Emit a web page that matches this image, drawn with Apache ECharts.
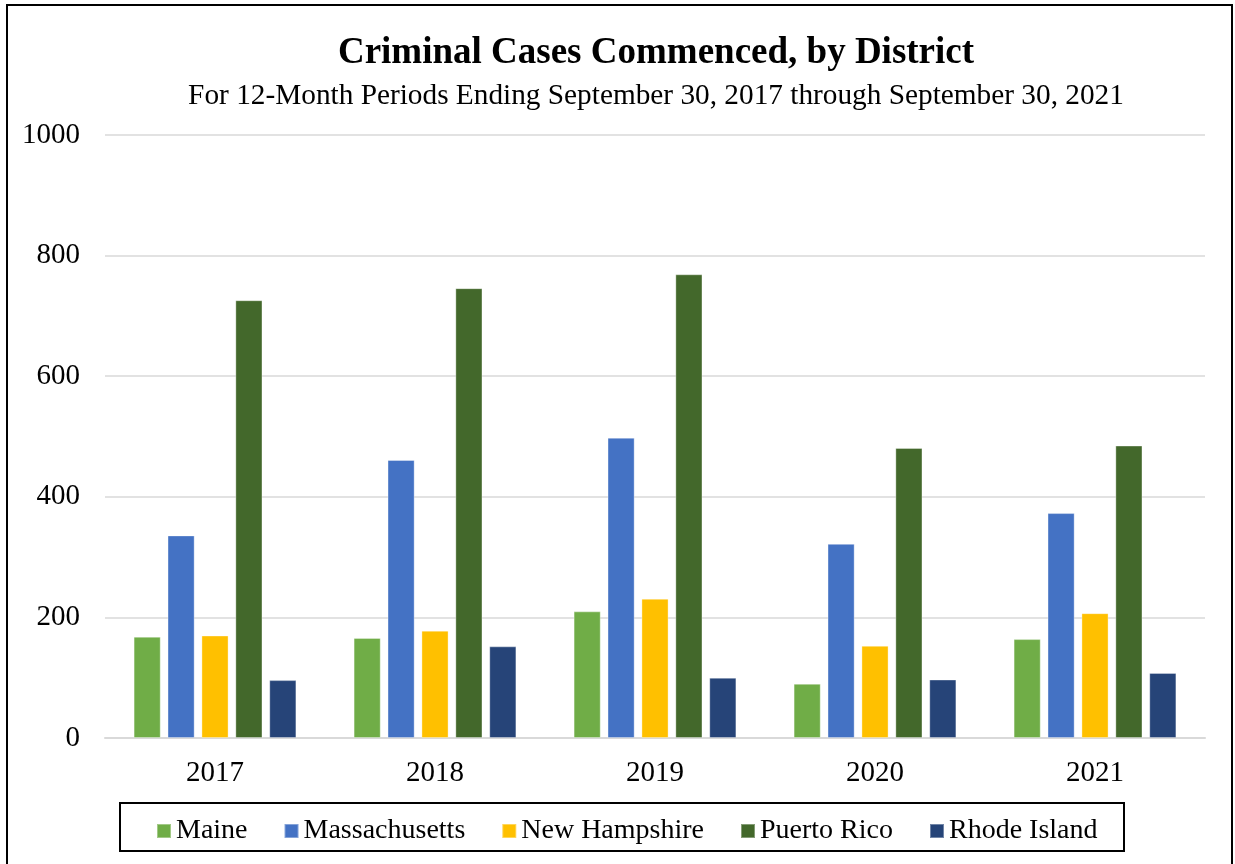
<!DOCTYPE html>
<html>
<head>
<meta charset="utf-8">
<script src="https://cdn.jsdelivr.net/npm/echarts@6/dist/echarts.min.js"></script>
<style>html,body{margin:0;padding:0;background:#fff}#c{width:1235px;height:864px}</style>
</head>
<body>
<div id="c"></div>
<script>
const years = ['2017','2018','2019','2020','2021'];
const maine = [168, 166, 210, 90, 164];
const massachusetts = [336, 461, 498, 322, 373];
const newHampshire = [170, 178, 231, 153, 207];
const puertoRico = [726, 746, 769, 481, 485];
const rhodeIsland = [96, 152, 100, 97, 108];
const yTicks = [0, 200, 400, 600, 800, 1000];

const names = ['Maine','Massachusetts','New Hampshire','Puerto Rico','Rhode Island'];
const colors = ['#70AD47','#4472C4','#FFC000','#43682B','#264478'];
const dataSets = [maine, massachusetts, newHampshire, puertoRico, rhodeIsland];
const serif = '"Liberation Serif","Times New Roman",serif';

const chart = echarts.init(document.getElementById('c'));
chart.setOption({
  animation: false,
  backgroundColor: '#fff',
  title: [{
    text: 'Criminal Cases Commenced, by District',
    left: 651, top: 30, textAlign: 'center',
    textStyle: {fontFamily: serif, fontWeight: 'bold', fontSize: 37, color: '#000'}
  }, {
    text: 'For 12-Month Periods Ending September 30, 2017 through September 30, 2021',
    left: 651, top: 77, textAlign: 'center',
    textStyle: {fontFamily: serif, fontWeight: 'normal', fontSize: 29.3, color: '#000'}
  }],
  grid: {left: 105, right: 30, top: 135, bottom: 126},
  legend: {
    left: 151, top: 812, itemWidth: 14, itemHeight: 14, itemGap: 36,
    icon: 'rect',
    textStyle: {fontFamily: serif, fontSize: 28, color: '#000'},
    data: names
  },
  xAxis: {
    type: 'category', data: years,
    axisLine: {lineStyle: {color: '#d9d9d9', width: 2}},
    axisTick: {show: false},
    axisLabel: {fontFamily: serif, fontSize: 29, color: '#000', margin: 21}
  },
  yAxis: {
    type: 'value', min: 0, max: 1000, interval: 200,
    axisLine: {show: false}, axisTick: {show: false},
    axisLabel: {fontFamily: serif, fontSize: 29, color: '#000', margin: 25,
      customValues: yTicks, formatter: v => String(v)},
    splitLine: {lineStyle: {color: '#d9d9d9', width: 1.5}}
  },
  series: names.map((n, i) => ({
    name: n, type: 'bar', data: dataSets[i],
    barGap: '25%', barCategoryGap: '26%',
    itemStyle: {color: colors[i], borderColor: 'rgba(255,255,255,0.35)', borderWidth: 1}
  })),
  graphic: [
    {type: 'rect', shape: {x: 7, y: 5, width: 1225, height: 870}, style: {fill: 'none', stroke: '#000', lineWidth: 2}, silent: true},
    {type: 'rect', shape: {x: 120, y: 803, width: 1004, height: 48}, style: {fill: 'none', stroke: '#000', lineWidth: 2}, silent: true}
  ]
});
</script>
</body>
</html>
